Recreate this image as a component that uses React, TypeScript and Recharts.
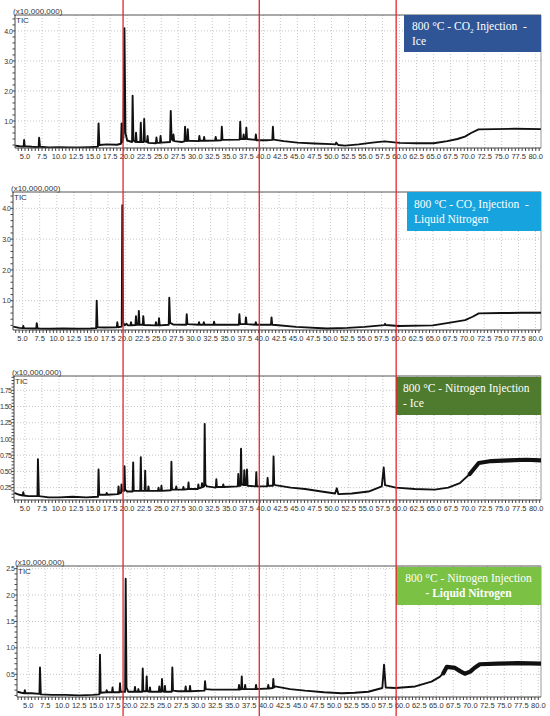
import React from 'react'
import { LineChart, Line, XAxis, YAxis, CartesianGrid, ReferenceLine } from 'recharts'

type Pt = [number, number]

// retention time (min), TIC intensity (x10,000,000)
const co2Ice: Pt[] = [
  [3.55, 0.18], [4.2, 0.16], [4.8, 0.15], [4.87, 0.37], [4.95, 0.16], [6, 0.14], [7.0, 0.13], [7.07, 0.44], [7.2, 0.14],
  [8.5, 0.12], [10, 0.13], [11.5, 0.12], [13, 0.12], [14.5, 0.13], [15.7, 0.14], [15.8, 0.92], [15.92, 0.2], [17, 0.22],
  [18.5, 0.21], [19.1, 0.24], [19.18, 0.92], [19.3, 0.3], [19.45, 0.45], [19.6, 4.09], [19.75, 0.6], [20.0, 0.35],
  [20.72, 0.3], [20.8, 1.84], [20.92, 0.35], [21.22, 0.3], [21.3, 0.61], [21.4, 0.3], [21.92, 0.3], [22.0, 0.94], [22.1, 0.3],
  [22.42, 0.3], [22.5, 1.07], [22.6, 0.32], [22.92, 0.3], [23.0, 0.5], [23.1, 0.27], [24.22, 0.26], [24.3, 0.45], [24.4, 0.27],
  [24.82, 0.27], [24.9, 0.5], [25.0, 0.28], [26.3, 0.3], [26.4, 1.33], [26.52, 0.4], [26.72, 0.35], [26.8, 0.55], [26.9, 0.33],
  [28.0, 0.3], [28.42, 0.32], [28.5, 0.81], [28.6, 0.34], [28.82, 0.33], [28.9, 0.73], [29.0, 0.34], [30.52, 0.33], [30.6, 0.5],
  [30.7, 0.34], [31.22, 0.34], [31.3, 0.47], [31.4, 0.34], [32.92, 0.35], [33.0, 0.47], [33.1, 0.35], [33.82, 0.36], [33.9, 0.81],
  [34.0, 0.37], [36.52, 0.38], [36.6, 0.98], [36.7, 0.4], [37.02, 0.4], [37.1, 0.55], [37.2, 0.4], [37.42, 0.4], [37.5, 0.78],
  [37.6, 0.4], [38.82, 0.37], [38.9, 0.55], [39.0, 0.36], [40.5, 0.36], [41.32, 0.37], [41.4, 0.81], [41.5, 0.38], [43, 0.33],
  [45, 0.28], [47.5, 0.25], [50, 0.23], [50.6, 0.22], [50.7, 0.28], [51.0, 0.2], [52, 0.18], [54, 0.22], [56, 0.28], [57.8, 0.32],
  [60, 0.27], [62.5, 0.26], [65, 0.26], [67, 0.33], [68.5, 0.4], [69.6, 0.48], [70.5, 0.6], [71.6, 0.72], [74, 0.73], [77, 0.74],
  [80.75, 0.73],
]

const co2LiquidN2: Pt[] = [
  [3.62, 0.16], [4.5, 0.12], [5.05, 0.11], [5.1, 0.18], [5.2, 0.11], [6.5, 0.1], [7.0, 0.1], [7.07, 0.27], [7.2, 0.1], [9, 0.09],
  [11, 0.1], [13, 0.09], [15, 0.1], [15.76, 0.11], [15.84, 1.0], [15.95, 0.14], [17, 0.13], [18.77, 0.14], [18.85, 0.3],
  [18.95, 0.14], [19.5, 0.16], [19.58, 4.1], [19.7, 0.3], [19.9, 0.2], [20.2, 0.25], [20.4, 0.2], [20.77, 0.2], [20.85, 0.3],
  [20.95, 0.2], [21.5, 0.21], [21.58, 0.5], [21.66, 0.22], [21.92, 0.22], [22.0, 0.67], [22.1, 0.22], [22.57, 0.22], [22.65, 0.5],
  [22.75, 0.21], [24.42, 0.2], [24.5, 0.3], [24.6, 0.2], [24.87, 0.2], [24.95, 0.43], [25.05, 0.2], [26.37, 0.22], [26.45, 1.1],
  [26.57, 0.28], [27, 0.23], [28.92, 0.22], [29.0, 0.56], [29.1, 0.24], [30.72, 0.22], [30.8, 0.3], [30.9, 0.22], [31.42, 0.22],
  [31.5, 0.3], [31.6, 0.22], [32.92, 0.22], [33.0, 0.32], [33.1, 0.22], [36.62, 0.22], [36.7, 0.56], [36.8, 0.24], [37.58, 0.24],
  [37.66, 0.46], [37.76, 0.24], [39.02, 0.22], [39.1, 0.3], [39.2, 0.22], [41.32, 0.22], [41.4, 0.46], [41.5, 0.22], [42, 0.21],
  [45, 0.15], [49.5, 0.1], [52.5, 0.12], [55, 0.15], [57.9, 0.21], [58.0, 0.25], [58.1, 0.21], [60, 0.18], [65, 0.2], [67.5, 0.29],
  [69.7, 0.37], [70.8, 0.48], [71.7, 0.59], [75, 0.6], [78, 0.61], [80.8, 0.61],
]

const n2Ice: Pt[] = [
  [3.45, 0.17], [4.2, 0.14], [4.7, 0.13], [4.76, 0.18], [4.85, 0.13], [5.5, 0.12], [6.84, 0.12], [6.91, 0.69], [7.05, 0.12],
  [8.5, 0.1], [10, 0.1], [12, 0.11], [14, 0.1], [15.72, 0.11], [15.8, 0.53], [15.9, 0.14], [16.92, 0.14], [17.0, 0.17], [17.1, 0.14],
  [18.65, 0.15], [18.73, 0.27], [18.82, 0.16], [19.1, 0.17], [19.17, 0.3], [19.25, 0.2], [19.53, 0.2], [19.61, 0.58], [19.7, 0.22],
  [20.0, 0.19], [20.8, 0.19], [20.88, 0.64], [20.96, 0.2], [21.92, 0.2], [22.0, 0.72], [22.08, 0.2], [22.56, 0.2], [22.64, 0.51],
  [22.72, 0.2], [23.05, 0.2], [23.12, 0.27], [23.2, 0.2], [24.52, 0.2], [24.6, 0.25], [24.68, 0.2], [24.95, 0.2], [25.03, 0.28],
  [25.1, 0.2], [26.41, 0.21], [26.49, 0.65], [26.57, 0.22], [27.12, 0.22], [27.2, 0.27], [27.28, 0.22], [28.17, 0.22], [28.25, 0.26],
  [28.33, 0.22], [28.92, 0.23], [29.0, 0.33], [29.08, 0.23], [30.37, 0.23], [30.44, 0.3], [30.52, 0.24], [30.9, 0.25], [30.98, 0.32],
  [31.1, 0.26], [31.29, 0.27], [31.37, 1.23], [31.47, 0.3], [31.7, 0.27], [33.0, 0.25], [33.08, 0.38], [33.16, 0.26], [34.02, 0.26],
  [34.1, 0.3], [34.18, 0.26], [36.22, 0.27], [36.3, 0.46], [36.38, 0.28], [36.62, 0.28], [36.7, 0.85], [36.8, 0.3], [37.1, 0.29],
  [37.18, 0.52], [37.28, 0.29], [37.49, 0.29], [37.57, 0.53], [37.67, 0.28], [38.86, 0.27], [38.94, 0.49], [39.02, 0.27],
  [40.52, 0.27], [40.6, 0.4], [40.68, 0.28], [41.39, 0.28], [41.47, 0.73], [41.57, 0.3], [41.7, 0.29], [44, 0.25], [46.1, 0.23],
  [48.5, 0.19], [50.5, 0.16], [50.75, 0.24], [50.98, 0.15], [52.95, 0.16], [55.4, 0.19], [57.34, 0.27], [57.63, 0.56], [57.82, 0.29],
  [59.4, 0.25], [62.2, 0.23], [65.1, 0.22], [67.1, 0.25], [68.8, 0.32], [70.25, 0.46], [71.57, 0.63], [73.4, 0.66], [76, 0.67],
  [78.5, 0.68], [80.7, 0.67],
]

const n2LiquidN2: Pt[] = [
  [3.4, 0.17], [4.0, 0.15], [4.42, 0.14], [4.5, 0.2], [4.6, 0.14], [5.5, 0.14], [6.65, 0.13], [6.73, 0.63], [6.85, 0.12], [8.5, 0.11],
  [10.5, 0.11], [12.5, 0.1], [14.5, 0.11], [15.47, 0.12], [15.55, 0.87], [15.65, 0.15], [16.46, 0.16], [16.54, 0.2], [16.62, 0.16],
  [17.32, 0.16], [17.4, 0.25], [17.48, 0.16], [18.42, 0.16], [18.5, 0.33], [18.58, 0.17], [19.25, 0.17], [19.33, 2.31], [19.45, 0.25],
  [19.7, 0.17], [20.62, 0.17], [20.7, 0.26], [20.78, 0.17], [21.12, 0.17], [21.2, 0.22], [21.28, 0.17], [21.76, 0.17], [21.84, 0.61],
  [21.92, 0.18], [22.34, 0.18], [22.42, 0.46], [22.5, 0.18], [22.82, 0.17], [22.9, 0.25], [22.98, 0.17], [24.2, 0.17], [24.28, 0.27],
  [24.36, 0.17], [24.59, 0.17], [24.67, 0.41], [24.75, 0.18], [25.02, 0.17], [25.1, 0.28], [25.18, 0.17], [26.11, 0.17], [26.19, 0.63],
  [26.29, 0.19], [27, 0.18], [28.07, 0.18], [28.15, 0.27], [28.23, 0.18], [28.71, 0.18], [28.79, 0.28], [28.87, 0.18], [30.92, 0.19],
  [31.0, 0.37], [31.1, 0.22], [32, 0.21], [35.92, 0.21], [36.0, 0.3], [36.08, 0.21], [36.32, 0.22], [36.4, 0.46], [36.48, 0.22],
  [36.82, 0.22], [36.9, 0.3], [36.98, 0.22], [38.42, 0.22], [38.5, 0.3], [38.58, 0.22], [40.22, 0.23], [40.3, 0.3], [40.38, 0.23],
  [40.96, 0.24], [41.04, 0.41], [41.12, 0.25], [41.3, 0.27], [43.5, 0.22], [45.7, 0.19], [48.5, 0.16], [51.1, 0.14], [53, 0.15],
  [55, 0.17], [57.07, 0.24], [57.32, 0.68], [57.57, 0.25], [59, 0.24], [61.9, 0.27], [64.3, 0.36], [65.5, 0.45], [66.04, 0.52],
  [66.54, 0.64], [67.76, 0.62], [68.5, 0.56], [69.2, 0.51], [70.0, 0.55], [70.6, 0.62], [71.4, 0.69], [74, 0.7], [77, 0.71], [80.4, 0.7],
]

const xTicks = [
  5.0, 7.5, 10.0, 12.5, 15.0, 17.5, 20.0, 22.5, 25.0, 27.5, 30.0, 32.5, 35.0, 37.5, 40.0, 42.5,
  45.0, 47.5, 50.0, 52.5, 55.0, 57.5, 60.0, 62.5, 65.0, 67.5, 70.0, 72.5, 75.0, 77.5, 80.0,
]
const yTicksCo2 = [1.0, 2.0, 3.0, 4.0]
const yTicksN2Ice = [0.25, 0.5, 0.75, 1.0, 1.25, 1.5, 1.75]
const yTicksN2Liquid = [0.5, 1.0, 1.5, 2.0, 2.5]

// red guide lines, in the first panel's time scale
const markerTimes = [19.4, 39.4, 59.5]

const range = (from: number, to: number, step: number) => {
  const out: number[] = []
  for (let k = Math.ceil(from / step - 1e-9); k * step <= to + 1e-9; k++) {
    out.push(Math.round(k * step * 1000) / 1000)
  }
  return out
}

const axisFont = '"Liberation Sans", Arial, sans-serif'
const boxFont = '"Liberation Serif", "Times New Roman", serif'

const XTick = (props: any) => {
  const { x, y, payload } = props
  const v = payload.value
  if (!xTicks.some((m) => Math.abs(m - v) < 1e-6)) return <g />
  return (
    <text x={x} y={y} dy={6.3} textAnchor="middle" fontSize={7.5} fill="#333" fontFamily={axisFont}>
      {v.toFixed(1)}
    </text>
  )
}

const YTick = (props: any) => {
  const { x, y, payload, majors, digits } = props
  const v = payload.value
  if (!majors.some((m: number) => Math.abs(m - v) < 1e-6)) return <g />
  return (
    <text x={x} y={y} dy={2.6} textAnchor="end" fontSize={7} letterSpacing={-0.5} fill="#333" fontFamily={axisFont}>
      {v.toFixed(digits)}
    </text>
  )
}

const Co2 = () => (
  <>
    CO<sub style={{ fontSize: '7px', verticalAlign: 'sub', lineHeight: 0 }}>2</sub>
  </>
)

const panels = [
  {
    points: co2Ice, bandFrom: null, plotTop: 15, plotBottom: 148, plotLeft: 15, plotRight: 541,
    xDomain: [3.53, 80.77], yDomain: [0.1, 4.53], yTicks: yTicksCo2, yMinor: 0.2, digits: 1,
    box: { left: 404, top: 15, width: 137, height: 37, bg: '#2f5597', pad: 4, padLeft: 8, align: 'left',
      lines: [<>800 °C - <Co2 /> Injection&nbsp; -</>, <>Ice</>] },
  },
  {
    points: co2LiquidN2, bandFrom: null, plotTop: 192, plotBottom: 330, plotLeft: 13, plotRight: 541,
    xDomain: [3.6, 80.8], yDomain: [0.05, 4.53], yTicks: yTicksCo2, yMinor: 0.2, digits: 1,
    box: { left: 407, top: 192, width: 134, height: 39, bg: '#17a3de', pad: 5, padLeft: 7, align: 'left',
      lines: [<>800 °C - <Co2 /> Injection&nbsp; -</>, <>Liquid Nitrogen</>] },
  },
  {
    points: n2Ice, bandFrom: 70.2, plotTop: 376, plotBottom: 500, plotLeft: 14, plotRight: 541,
    xDomain: [3.4, 80.7], yDomain: [0.06, 1.97], yTicks: yTicksN2Ice, yMinor: 0.05, digits: 2,
    box: { left: 396, top: 377, width: 145, height: 38, bg: '#4f7b2e', pad: 4, padLeft: 7, align: 'left',
      lines: [<>800 °C - Nitrogen Injection</>, <>- Ice</>] },
  },
  {
    points: n2LiquidN2, bandFrom: 66.0, plotTop: 566, plotBottom: 697, plotLeft: 17, plotRight: 541,
    xDomain: [3.35, 80.4], yDomain: [0.07, 2.55], yTicks: yTicksN2Liquid, yMinor: 0.1, digits: 1,
    box: { left: 396, top: 567, width: 145, height: 38, bg: '#7bc143', pad: 4, padLeft: 0, align: 'center',
      lines: [<>800 °C - Nitrogen Injection</>, <b>- Liquid Nitrogen</b>] },
  },
]

function Panel({ cfg }: { cfg: any }) {
  const { points, bandFrom, plotTop, plotBottom, plotLeft, plotRight, xDomain, yDomain, yTicks, yMinor, digits } = cfg
  const height = plotBottom - plotTop + 15 + 16
  const rows = points.map(([t, v]: Pt) => ({ t, v, band: bandFrom != null && t >= bandFrom ? v : null }))
  const xAll = range(xDomain[0], xDomain[1], 0.5)
  const yAll = range(yDomain[0], yDomain[1], yMinor)

  return (
    <div style={{ position: 'absolute', left: 0, top: plotTop - 15, width: 550, height }}>
      <LineChart width={550} height={height} data={rows} margin={{ top: 15, right: 550 - plotRight, bottom: 2, left: 0 }}>
        <CartesianGrid stroke="#c6c6c6" strokeDasharray="1 2" verticalValues={xTicks} horizontalValues={yTicks} />
        <XAxis
          dataKey="t"
          type="number"
          domain={xDomain}
          allowDataOverflow
          ticks={xAll}
          interval={0}
          height={14}
          tickSize={3}
          tickMargin={2}
          axisLine={{ stroke: '#444' }}
          tickLine={{ stroke: '#444' }}
          tick={<XTick />}
        />
        <YAxis
          type="number"
          domain={yDomain}
          allowDataOverflow
          ticks={yAll}
          interval={0}
          width={plotLeft}
          tickSize={2.5}
          tickMargin={0}
          axisLine={{ stroke: '#444' }}
          tickLine={{ stroke: '#444' }}
          tick={<YTick majors={yTicks} digits={digits} />}
        />
        <ReferenceLine y={yDomain[1]} stroke="#555" />
        <ReferenceLine x={xDomain[1]} stroke="#9a9a9a" />
        <Line
          dataKey="v"
          type="linear"
          stroke="#111"
          strokeWidth={1.9}
          strokeLinejoin="round"
          dot={false}
          isAnimationActive={false}
        />
        {bandFrom != null && (
          <Line
            dataKey="band"
            type="linear"
            stroke="#111"
            strokeWidth={4.2}
            strokeLinecap="round"
            strokeLinejoin="round"
            dot={false}
            connectNulls={false}
            isAnimationActive={false}
          />
        )}
      </LineChart>
      <div style={{ position: 'absolute', left: plotLeft - 2, top: 7.5, fontSize: 8, lineHeight: '8px', color: '#333', fontFamily: axisFont }}>
        (x10,000,000)
      </div>
      <div style={{ position: 'absolute', left: plotLeft + 1, top: 16.5, fontSize: 8, lineHeight: '8px', color: '#333', fontFamily: axisFont }}>
        TIC
      </div>
    </div>
  )
}

function LabelBox({ box }: { box: any }) {
  return (
    <div
      style={{
        position: 'absolute',
        left: box.left,
        top: box.top,
        width: box.width,
        height: box.height,
        background: box.bg,
        color: '#fff',
        fontFamily: boxFont,
        fontSize: 11.5,
        lineHeight: '14.6px',
        boxSizing: 'border-box',
        paddingTop: box.pad,
        paddingLeft: box.padLeft,
        textAlign: box.align,
        whiteSpace: 'nowrap',
      }}
    >
      {box.lines.map((l: any, i: number) => (
        <div key={i}>{l}</div>
      ))}
    </div>
  )
}

export default function App() {
  const markerRows = markerTimes.map((t) => ({ t, y: 0 }))
  return (
    <div style={{ position: 'absolute', left: 0, top: 0, width: 550, height: 716, background: '#fff', overflow: 'hidden' }}>
      {panels.map((p, i) => (
        <Panel key={i} cfg={p} />
      ))}
      {panels.map((p, i) => (
        <LabelBox key={'b' + i} box={p.box} />
      ))}
      <div style={{ position: 'absolute', left: 0, top: 0, pointerEvents: 'none' }}>
        <LineChart width={550} height={716} data={markerRows} margin={{ top: 0, right: 9, bottom: 0, left: 15 }}>
          <XAxis dataKey="t" type="number" domain={[3.53, 80.77]} allowDataOverflow hide />
          <YAxis type="number" domain={[0, 1]} hide />
          <Line dataKey="y" stroke="none" dot={false} isAnimationActive={false} />
          {markerTimes.map((t) => (
            <ReferenceLine key={t} x={t} stroke="#e3262b" strokeWidth={1.3} />
          ))}
        </LineChart>
      </div>
    </div>
  )
}
